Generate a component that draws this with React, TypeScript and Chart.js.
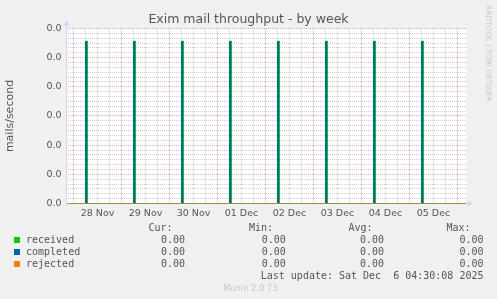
import React, { useEffect, useRef } from 'react';
import { Chart, registerables } from 'chart.js';

Chart.register(...registerables);

// ---------- data ----------
const titleText = 'Exim mail throughput - by week';
const yAxisTitle = 'mails/second';
const dayLabels = ['28 Nov', '29 Nov', '30 Nov', '01 Dec', '02 Dec', '03 Dec', '04 Dec', '05 Dec'];
// time axis in hours since 28 Nov 00:00
const rangeStartHour = -3; // 27 Nov 21:00
const rangeEndHour = 196.5; // 06 Dec 04:30
const sampleHours = 0.5; // 30 min samples
const yMax = 0.0006;
const yMajorStep = 0.0001;
// spikes (sample start, hours since 28 Nov 00:00) and their values (mails/second)
const completedSpikeHours = [6, 30, 54, 78, 102, 126, 150, 174];
const completedSpikeValues = [0.000556, 0.000556, 0.000556, 0.000556, 0.000556, 0.000556, 0.000556, 0.000556];
const receivedSpikeHours = [6.5, 30.5, 54.5, 78.5, 102.5, 126.5, 150.5, 174.5];
const receivedSpikeValues = [0.000556, 0.000556, 0.000556, 0.000556, 0.000556, 0.000556, 0.000556, 0.000556];
const rejectedSpikeHours: number[] = [];
const rejectedSpikeValues: number[] = [];

const seriesNames = ['received', 'completed', 'rejected'];
const columnHeaders = ['Cur:', 'Min:', 'Avg:', 'Max:'];
const curValues = ['0.00', '0.00', '0.00'];
const minValues = ['0.00', '0.00', '0.00'];
const avgValues = ['0.00', '0.00', '0.00'];
const maxValues = ['0.00', '0.00', '0.00'];
const lastUpdate = 'Last update: Sat Dec  6 04:30:08 2025';
const footerText = 'Munin 2.0.73';
const sideText = 'RRDTOOL / TOBI OETIKER';

// ---------- styles ----------
const seriesColors = ['#00CC00', '#0066B3', '#FF8000'];
const MAJOR_GRID = 'rgba(230, 150, 150, 0.85)';
const MINOR_GRID = 'rgba(200, 200, 200, 0.9)';
const AXIS_COLOR = '#CFD6F8';
const FONT = "'DejaVu Sans', sans-serif";
const MONO = "'DejaVu Sans Mono', monospace";

function buildSeries(starts: number[], values: number[]) {
  const pts: { x: number; y: number }[] = [{ x: rangeStartHour, y: 0 }];
  starts.forEach((h, i) => {
    pts.push({ x: h, y: 0 }, { x: h, y: values[i] }, { x: h + sampleHours, y: values[i] }, { x: h + sampleHours, y: 0 });
  });
  pts.push({ x: rangeEndHour, y: 0 });
  return pts;
}

const plotBg = {
  id: 'plotBg',
  beforeDraw(chart: any) {
    const { ctx, chartArea: a } = chart;
    ctx.save();
    ctx.fillStyle = '#ffffff';
    ctx.fillRect(a.left, a.top, a.right - a.left, a.bottom - a.top);
    ctx.restore();
  },
};

const axes = {
  id: 'axesArrows',
  afterDatasetsDraw(chart: any) {
    const { ctx, chartArea: a } = chart;
    const x = Math.floor(a.left) + 0.5 - 1;
    const y = Math.floor(a.bottom) + 0.5;
    ctx.save();
    ctx.strokeStyle = AXIS_COLOR;
    ctx.fillStyle = AXIS_COLOR;
    ctx.lineWidth = 1;
    ctx.beginPath();
    ctx.moveTo(x, y + 3);
    ctx.lineTo(x, a.top - 4);
    ctx.stroke();
    ctx.beginPath();
    ctx.moveTo(x - 3, a.top - 3);
    ctx.lineTo(x + 3, a.top - 3);
    ctx.lineTo(x, a.top - 8);
    ctx.closePath();
    ctx.fill();
    ctx.beginPath();
    ctx.moveTo(a.right + 1, y - 3);
    ctx.lineTo(a.right + 1, y + 3);
    ctx.lineTo(a.right + 6, y);
    ctx.closePath();
    ctx.fill();
    ctx.restore();
  },
};

export default function App() {
  const canvasRef = useRef<HTMLCanvasElement | null>(null);

  useEffect(() => {
    if (!canvasRef.current) return;
    const xTicks: number[] = [];
    for (let h = 0; h <= rangeEndHour; h += 6) xTicks.push(h);
    const yTicks: number[] = [];
    for (let k = 0; k <= 36; k++) yTicks.push((yMajorStep / 6) * k);

    const chart = new Chart(canvasRef.current, {
      type: 'line',
      data: {
        datasets: [
          { label: seriesNames[0], data: buildSeries(receivedSpikeHours, receivedSpikeValues), borderColor: seriesColors[0], order: 2 },
          { label: seriesNames[1], data: buildSeries(completedSpikeHours, completedSpikeValues), borderColor: seriesColors[1], order: 1 },
          { label: seriesNames[2], data: buildSeries(rejectedSpikeHours, rejectedSpikeValues), borderColor: seriesColors[2], order: 0 },
        ],
      },
      options: {
        animation: false,
        responsive: false,
        devicePixelRatio: 1,
        layout: { padding: { left: 0, right: 30.5, top: 28.5, bottom: 0 } },
        elements: {
          point: { radius: 0, hoverRadius: 0 },
          line: { borderWidth: 1, tension: 0, fill: false },
        },
        plugins: {
          legend: { display: false },
          tooltip: { enabled: false },
          title: { display: false },
        },
        scales: {
          x: {
            type: 'linear',
            min: rangeStartHour,
            max: rangeEndHour,
            afterFit: (s: any) => { s.height = 95.5; },
            afterBuildTicks: (s: any) => { s.ticks = xTicks.map((v) => ({ value: v })); },
            ticks: {
              autoSkip: false,
              maxRotation: 0,
              minRotation: 0,
              padding: 4,
              color: '#555',
              font: { family: FONT, size: 9.5 },
              callback: (_v: any, i: number) => (i % 4 === 2 ? dayLabels[(i - 2) / 4] : ''),
            },
            grid: {
              drawTicks: false,
              color: (c: any) => (c.tick && c.tick.value % 24 === 0 ? MAJOR_GRID : MINOR_GRID),
            },
            border: { display: false, dash: [1, 1] },
          },
          y: {
            type: 'linear',
            min: 0,
            max: yMax,
            afterFit: (s: any) => { s.width = 67.5; },
            afterBuildTicks: (s: any) => { s.ticks = yTicks.map((v) => ({ value: v })); },
            ticks: {
              autoSkip: false,
              padding: 6,
              color: '#555',
              font: { family: FONT, size: 9.5 },
              callback: (v: any, i: number) => (i % 6 === 0 ? Number(v).toFixed(1) : ''),
            },
            grid: {
              drawTicks: false,
              color: (c: any) => (c.index % 6 === 0 ? MAJOR_GRID : MINOR_GRID),
            },
            border: { display: false, dash: [1, 1] },
            title: {
              display: true,
              text: yAxisTitle,
              color: '#555',
              font: { family: FONT, size: 11 },
              padding: { top: 4, bottom: 4 },
            },
          },
        },
      },
      plugins: [plotBg, axes],
    } as any);
    return () => chart.destroy();
  }, []);

  const rowTops = [222, 234, 246, 258, 270];
  const headerLefts = [148.5, 249, 348.5, 446.5];
  const valueRights = [185, 285.8, 384, 483.5];
  const valueCols = [curValues, minValues, avgValues, maxValues];
  const mono: React.CSSProperties = {
    position: 'absolute',
    fontFamily: MONO,
    fontSize: 10,
    lineHeight: '12px',
    color: '#555',
    whiteSpace: 'pre',
  };

  return (
    <div style={{ position: 'fixed', left: 0, top: 0, width: 497, height: 299, background: '#F0F0F0', overflow: 'hidden' }}>
      <canvas ref={canvasRef} width={497} height={299} style={{ position: 'absolute', left: 0, top: 0, display: 'block' }} />
      <div
        style={{
          position: 'absolute',
          left: 0,
          width: 497,
          top: 11.3,
          textAlign: 'center',
          fontFamily: FONT,
          fontSize: 12.5,
          lineHeight: '15px',
          color: '#555',
          whiteSpace: 'pre',
        }}
      >
        {titleText}
      </div>
      <div
        style={{
          position: 'absolute',
          left: 493,
          top: 5,
          transformOrigin: '0 0',
          transform: 'rotate(90deg)',
          fontFamily: FONT,
          fontSize: 7.5,
          lineHeight: 'normal',
          color: '#c8c8c8',
          whiteSpace: 'pre',
        }}
      >
        {sideText}
      </div>
      {columnHeaders.map((h, i) => (
        <div key={h} style={{ ...mono, left: headerLefts[i], top: rowTops[0] }}>{h}</div>
      ))}
      {seriesNames.map((name, r) => (
        <React.Fragment key={name}>
          <div style={{ position: 'absolute', left: 14, top: 237 + r * 12, width: 6, height: 6, background: seriesColors[r] }} />
          <div style={{ ...mono, left: 26, top: rowTops[r + 1] }}>{name}</div>
          {valueCols.map((col, c) => (
            <div key={c} style={{ ...mono, left: 0, width: valueRights[c], textAlign: 'right', top: rowTops[r + 1] }}>{col[r]}</div>
          ))}
        </React.Fragment>
      ))}
      <div style={{ ...mono, left: 0, width: 483.5, textAlign: 'right', top: rowTops[4] }}>{lastUpdate}</div>
      <div style={{ position: 'absolute', left: 0, width: 500.6, textAlign: 'center', top: 283, fontFamily: FONT, fontSize: 8.3, lineHeight: '10px', color: '#c8c8c8' }}>
        {footerText}
      </div>
    </div>
  );
}
